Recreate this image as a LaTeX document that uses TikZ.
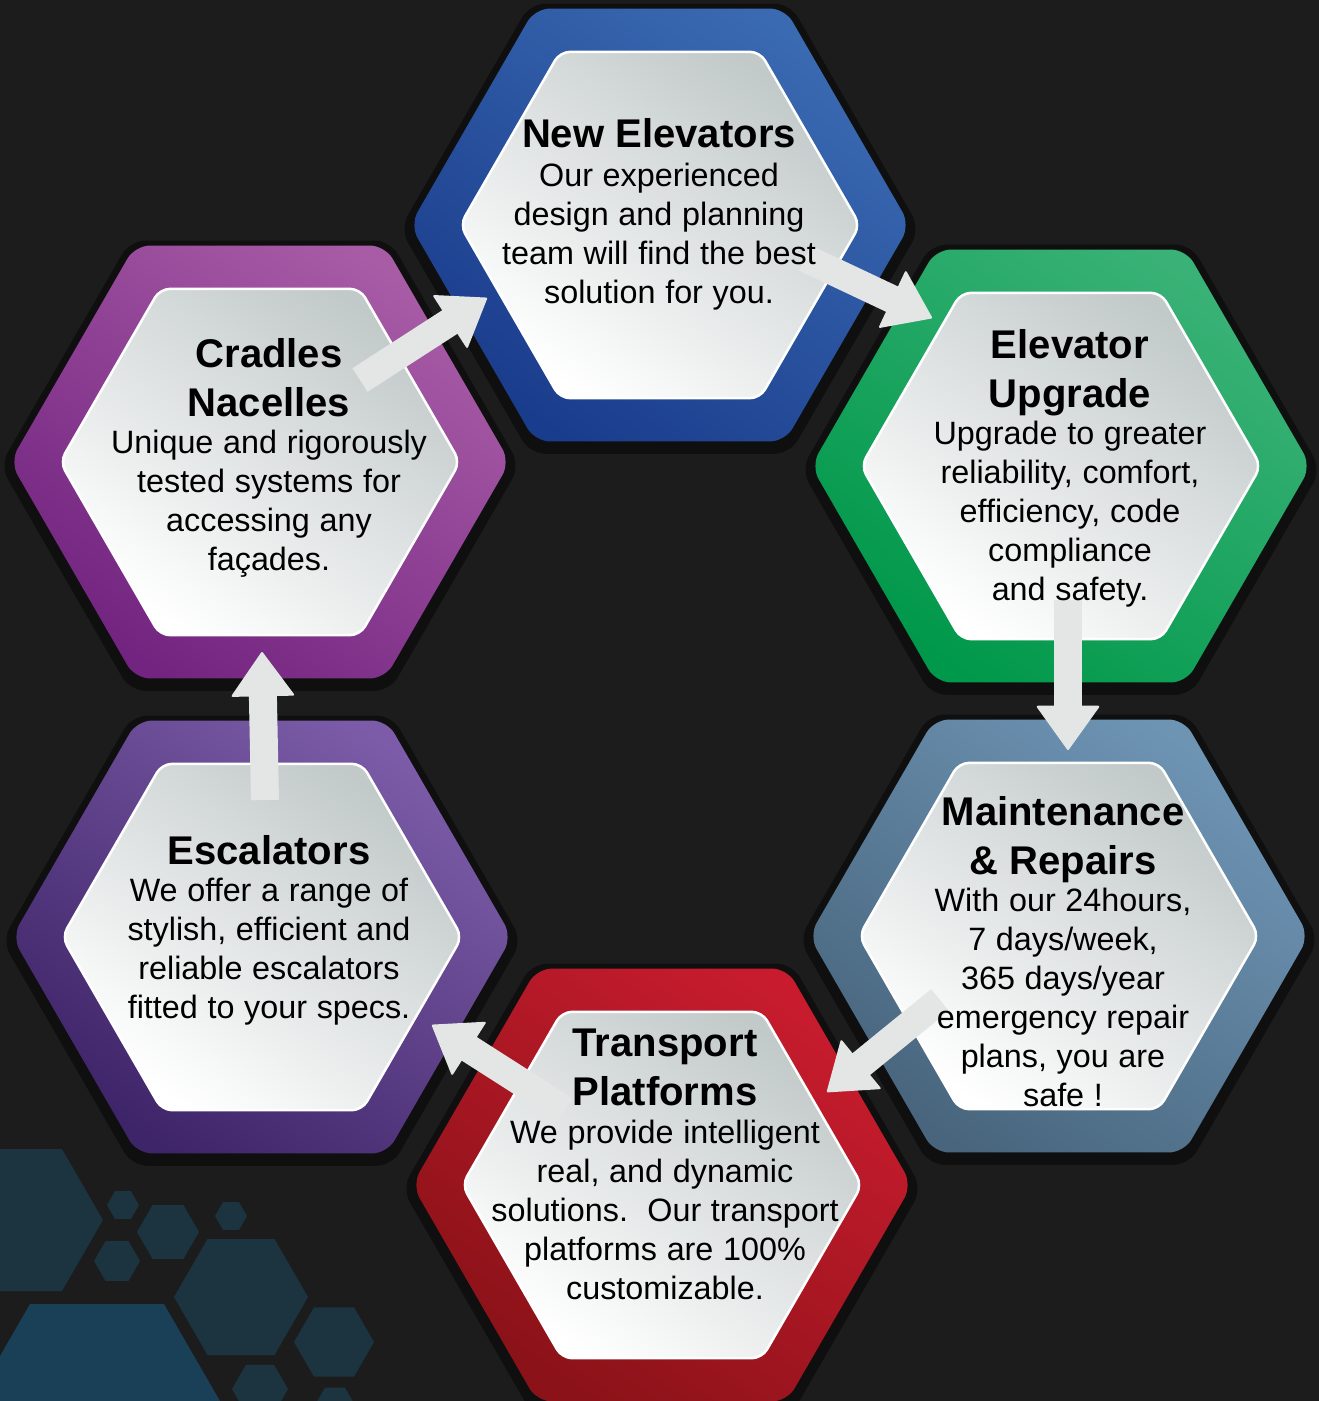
\documentclass[tikz,border=0pt]{standalone}
\usepackage{fontspec}
\setmainfont{Liberation Sans}
\usetikzlibrary{shapes.geometric, arrows.meta, calc, shadows}
\setlength{\parindent}{0pt}
\frenchspacing

\definecolor{bgdark}{HTML}{1C1C1C}
\definecolor{decoteal}{HTML}{1B3440}
\definecolor{decoblue}{HTML}{1A4058}
\definecolor{blueA}{HTML}{3A6AB2}
\definecolor{blueB}{HTML}{1A3C8C}
\definecolor{greenA}{HTML}{3AB277}
\definecolor{greenB}{HTML}{00984A}
\definecolor{steelA}{HTML}{6E94B4}
\definecolor{steelB}{HTML}{48657D}
\definecolor{redA}{HTML}{C81C2E}
\definecolor{redB}{HTML}{8A1218}
\definecolor{violetA}{HTML}{7C5CA8}
\definecolor{violetB}{HTML}{3E2468}
\definecolor{plumA}{HTML}{A85CA6}
\definecolor{plumB}{HTML}{722480}
\definecolor{faceA}{HTML}{C2C9C9}
\definecolor{faceB}{HTML}{FFFFFF}
\definecolor{arrowgrey}{HTML}{E4E6E6}

\newcommand{\hdfont}{\fontsize{22.8}{27.9}\selectfont\bfseries\spaceskip=0.278em\relax\xspaceskip=\spaceskip}
\newcommand{\txfont}{\fontsize{18.4}{22.2}\selectfont\mdseries\spaceskip=0.3em\relax\xspaceskip=\spaceskip}
\newcommand{\hexhead}[1]{{\hdfont #1\par}\vskip-1pt\txfont}

\tikzset{
  hexbase/.style={regular polygon, regular polygon sides=6, inner sep=0pt},
  outerhex/.style={hexbase, minimum size=10cm, rounded corners=0.3cm,
    top color=#1A, bottom color=#1B, shading angle=-35,
    drop shadow={shadow xshift=0pt, shadow yshift=-2pt, fill=black, opacity=0.45, shadow scale=1.04}},
  facehex/.style={hexbase, minimum size=8cm, rounded corners=0.2cm,
    draw=white, line width=0.05cm,
    top color=faceA, bottom color=faceB, shading angle=-35},
  textblock/.style={text width=8.4cm, align=center, inner sep=0pt, anchor=north},
  flowarrow/.style={draw=arrowgrey, line width=0.56cm,
    -{Triangle[length=0.9cm, width=1.28cm, line width=0.04cm, round]}}
}

\begin{document}
\begin{tikzpicture}[x=0.02cm, y=-0.02cm]
  \useasboundingbox (0,0) rectangle (1319,1401);
  \fill[bgdark] (0,0) rectangle (1319,1401);

  \begin{scope}
    \clip (0,0) rectangle (1319,1401);

    % background honeycomb, lower left
    \foreach \cx/\cy/\rr/\cc in {21/1220/82/decoteal, 123/1205/16/decoteal,
        168/1232/31/decoteal, 117/1261/23/decoteal, 231/1216/16/decoteal,
        241/1297/67/decoteal, 334/1342/40/decoteal, 260/1389/28/decoteal,
        335/1405/20/decoteal, 97/1420/134/decoblue}
      \node[hexbase, fill=\cc, minimum size={\rr*0.04cm}] at (\cx,\cy) {};

    % outer rings
    \node[outerhex=blue]   (newel)   at (660,225)  {};
    \node[outerhex=green]  (upgrade) at (1061,466) {};
    \node[outerhex=steel]  (maint)   at (1059,936) {};
    \node[outerhex=red]    (transp)  at (662,1185) {};
    \node[outerhex=violet] (escal)   at (262,937)  {};
    \node[outerhex=plum]   (cradle)  at (260,462)  {};

    % faces
    \foreach \hx in {newel, upgrade, maint, transp, escal, cradle}
      \node[facehex] (\hx-face) at (\hx) {};

    % cycle arrows
    \draw[flowarrow] ($(cradle)+(100,-82)$) -- ($(newel)+(-173,73)$);
    \draw[flowarrow] ($(newel)+(145,33)$) -- ($(upgrade)+(-129,-148)$);
    \draw[flowarrow] ($(upgrade)+(7,134)$) -- ($(maint)+(9,-186)$);
    \draw[flowarrow] ($(maint)+(-119,64)$) -- ($(transp)+(165,-93)$);
    \draw[flowarrow] ($(transp)+(-97,-75)$) -- ($(escal)+(170,88)$);
    \draw[flowarrow] ($(escal)+(3,-137)$) -- ($(cradle)+(2,190)$);

    % texts
    \node[textblock] (newel-text) at (659,118)
      {\hexhead{New Elevators}\vskip1pt Our experienced\\design and planning\\team will find the best\\solution for you.\par};
    \node[textblock] (upgrade-text) at (1070,329)
      {\hexhead{Elevator\\Upgrade}Upgrade to greater\\reliability, comfort,\\efficiency, code\\compliance\\and safety.\par};
    \node[textblock] (maint-text) at (1063,796)
      {\hexhead{Maintenance\\\& Repairs}With our 24hours,\\7 days/week,\\365 days/year\\emergency repair\\plans, you are\\safe !\par};
    \node[textblock] (transp-text) at (665,1029)
      {\hexhead{Transport\\Platforms}We provide intelligent\\real, and dynamic\\solutions.\ \ Our transport\\platforms are 100\%\\customizable.\par};
    \node[textblock] (escal-text) at (269,835)
      {\hexhead{Escalators}We offer a range of\\stylish, efficient and\\reliable escalators\\fitted to your specs.\par};
    \node[textblock] (cradle-text) at (269,338)
      {\hexhead{Cradles\\Nacelles}Unique and rigorously\\tested systems for\\accessing any\\façades.\par};
  \end{scope}
\end{tikzpicture}
\end{document}
